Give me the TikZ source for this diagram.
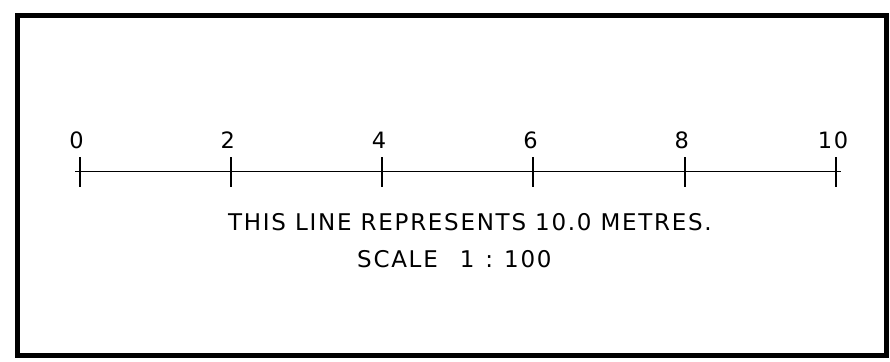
\documentclass[tikz,border=0pt]{standalone}
\usepackage{fontspec}
\setmainfont{DejaVu Sans}
\newfontfamily\capfont[LetterSpace=7.5]{DejaVu Sans}
\begin{document}
\begin{tikzpicture}[x=1pt,y=-1pt,
  frame/.style={line width=5pt},
  axisline/.style={line width=1.8pt},
  tickmark/.style={line width=2pt},
  numlabel/.style={anchor=base,inner sep=0pt,font=\capfont\fontsize{22.5}{26}\selectfont},
  caption/.style={anchor=base west,inner sep=0pt,font=\capfont\fontsize{23}{26}\selectfont}]
\useasboundingbox (0,0) rectangle (890,361);
\draw[frame] (17.5,16) rectangle (886.5,355.5);
% axis
\coordinate (ls) at (75,171.5);
\coordinate (le) at (841,171.5);
\draw[axisline] (ls) -- (le);
\foreach \i/\v in {0/0,1/2,2/4,3/6,4/8,5/10}{
  \pgfmathsetmacro{\xx}{79.5+151.3*\i}
  \coordinate (t\i a) at (\xx,157);
  \coordinate (t\i b) at (\xx,186.5);
  \draw[tickmark] (t\i a) -- (t\i b);
  \node[numlabel] (n\i) at (\xx-3,148) {\v};
}
\node[caption] (c1) at (228,230) {THIS LINE REPRESENTS 10.0 METRES.};
\node[caption] (c2) at (357,267) {SCALE\hspace{22pt}1\hspace{11pt}:\hspace{11pt}100};
\end{tikzpicture}
\end{document}
